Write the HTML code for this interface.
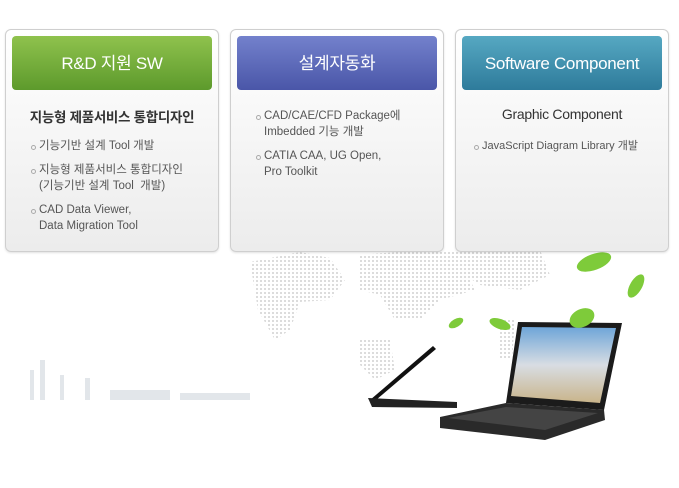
<!DOCTYPE html>
<html><head><meta charset="utf-8"><style>
*{margin:0;padding:0;box-sizing:border-box}
body{width:679px;height:488px;background:#fff;position:relative;overflow:hidden;font-family:"Liberation Sans","Noto Sans CJK KR",sans-serif}
.card{position:absolute;top:29px;width:214px;height:223px;border:1px solid #cfcfcf;border-radius:6px;background:linear-gradient(#fff,#ececec);box-shadow:0 1px 2px rgba(0,0,0,.12)}
.hd{position:absolute;left:6px;top:6px;width:200px;height:54px;border-radius:4px;color:#fff;font-size:17px;text-align:center;line-height:56px;letter-spacing:-0.3px}
.t{position:absolute;width:100%;text-align:center;top:76px;font-size:13.5px;color:#333;font-weight:bold;letter-spacing:-0.3px}
ul{position:absolute;left:33px;list-style:none;font-size:11.5px;color:#555;line-height:16px}
li{position:relative;margin-bottom:8px}
li:before{content:"";position:absolute;left:-8px;top:7px;width:3px;height:3px;border:1px solid #aaa;border-radius:50%}
</style></head><body>
<svg width="679" height="488" style="position:absolute;left:0;top:0">
<defs><pattern id="d" width="4" height="4" patternUnits="userSpaceOnUse"><rect width="2" height="2" fill="#dcdcdc"/></pattern>
<linearGradient id="sc" x1="0" y1="0" x2="0" y2="1"><stop offset="0" stop-color="#6ea5d8"/><stop offset=".5" stop-color="#d8dde3"/><stop offset="1" stop-color="#c9b48a"/></linearGradient></defs>
<g fill="url(#d)">
<path d="M250 262 L300 252 L330 258 L345 280 L330 300 L300 302 L290 330 L275 340 L258 310Z"/>
<path d="M360 255 L420 250 L460 260 L475 290 L440 300 L420 320 L395 320 L380 295 L360 290Z"/>
<path d="M430 252 L540 250 L550 275 L520 290 L480 285Z"/>
<path d="M360 340 L390 340 L395 370 L375 380 L360 365Z"/>
<path d="M500 320 L515 320 L512 360 L500 360Z"/>
</g>
<g fill="#e2e6ea"><rect x="30" y="370" width="4" height="30"/><rect x="40" y="360" width="5" height="40"/><rect x="60" y="375" width="4" height="25"/><rect x="85" y="378" width="5" height="22"/><rect x="110" y="390" width="60" height="10"/><rect x="180" y="393" width="70" height="7"/></g>
<path d="M370 400 L433 346 L436 349 L376 400Z" fill="#111"/>
<path d="M368 398 L457 402 L457 408 L372 407Z" fill="#222"/>
<path d="M518 322 L622 323 L604 410 L506 403Z" fill="#1b1b1b"/>
<path d="M522 327 L616 328 L600 403 L511 396Z" fill="url(#sc)"/>
<path d="M440 417 L506 403 L604 410 L605 420 L545 440 L440 428Z" fill="#2a2a2a"/>
<path d="M448 418 L506 407 L598 413 L545 430Z" fill="#444"/>
<g fill="#7ecb3a"><ellipse cx="594" cy="262" rx="18" ry="8" transform="rotate(-20 594 262)"/><ellipse cx="636" cy="286" rx="6" ry="13" transform="rotate(30 636 286)"/><ellipse cx="582" cy="318" rx="13" ry="9" transform="rotate(-25 582 318)"/><ellipse cx="500" cy="324" rx="11" ry="5" transform="rotate(20 500 324)"/><ellipse cx="456" cy="323" rx="8" ry="4" transform="rotate(-30 456 323)"/></g>
</svg>
<div class="card" style="left:5px"><div class="hd" style="background:linear-gradient(#8fc24d,#5d9a2c)">R&amp;D 지원 SW</div><div class="t">지능형 제품서비스 통합디자인</div>
<ul style="top:108px"><li>기능기반 설계 Tool 개발</li><li>지능형 제품서비스 통합디자인<br>(기능기반 설계 Tool&nbsp; 개발)</li><li>CAD Data Viewer,<br>Data Migration Tool</li></ul></div>
<div class="card" style="left:230px"><div class="hd" style="background:linear-gradient(#7381cc,#4a56a8)">설계자동화</div>
<ul style="top:78px"><li>CAD/CAE/CFD Package에<br>Imbedded 기능 개발</li><li>CATIA CAA, UG Open,<br>Pro Toolkit</li></ul></div>
<div class="card" style="left:455px"><div class="hd" style="background:linear-gradient(#56a8c2,#2e7b9b)">Software Component</div><div class="t" style="font-weight:normal;font-size:14px">Graphic Component</div>
<ul style="top:108px;left:26px;font-size:11px"><li>JavaScript Diagram Library 개발</li></ul></div>
</body></html>
